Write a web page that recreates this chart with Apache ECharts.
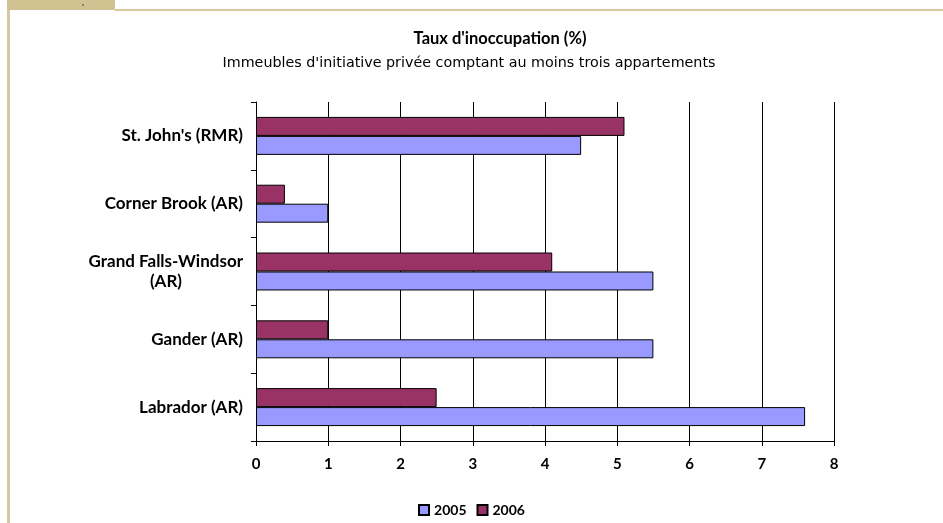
<!DOCTYPE html>
<html><head><meta charset="utf-8">
<script src="https://cdn.jsdelivr.net/npm/echarts@6/dist/echarts.min.js"></script>
<style>html,body{margin:0;padding:0;background:#fff}#c{width:943px;height:523px}</style>
</head><body><div id="c"></div>
<script>
// bottom to top
var categories = ["Labrador (AR)", "Gander (AR)", "Grand Falls-Windsor\n(AR)", "Corner Brook (AR)", "St. John's (RMR)"];
var values2005 = [7.6, 5.5, 5.5, 1.0, 4.5];
var values2006 = [2.5, 1.0, 4.1, 0.4, 5.1];
var xTicks = [0, 1, 2, 3, 4, 5, 6, 7, 8];

var chart = echarts.init(document.getElementById('c'), null, {renderer: 'canvas'});
var lab = "Lato, 'DejaVu Sans', sans-serif";
chart.setOption({
  animation: false,
  backgroundColor: '#fff',
  title: [
    {text: "Taux d'inoccupation (%)", left: 495, top: 25, textAlign: 'center',
     textStyle: {fontFamily: lab, fontWeight: 'bold', fontSize: 16.5, color: '#000'}},
    {text: "Immeubles d'initiative privée comptant au moins trois appartements", left: 464, top: 51, textAlign: 'center',
     textStyle: {fontFamily: "'DejaVu Sans', sans-serif", fontWeight: 'normal', fontSize: 14.3, color: '#000'}}
  ],
  legend: {
    bottom: 1, left: 'center', itemWidth: 10, itemHeight: 10, itemGap: 10,
    icon: 'rect',
    textStyle: {fontFamily: lab, fontWeight: 'bold', fontSize: 14, color: '#000'},
    data: ['2005', '2006']
  },
  grid: {left: 256, right: 109, top: 102, bottom: 82, containLabel: false},
  xAxis: {
    type: 'value', min: 0, max: 8, interval: 1,
    axisLine: {show: true, lineStyle: {color: '#000', width: 1}},
    axisTick: {show: true, length: 5, lineStyle: {color: '#000'}},
    axisLabel: {fontFamily: lab, fontWeight: 'bold', fontSize: 15, color: '#000', margin: 16,
      formatter: function (v) { return xTicks.indexOf(v) >= 0 ? String(v) : ''; }},
    splitLine: {show: true, lineStyle: {color: '#000', width: 1}}
  },
  yAxis: {
    type: 'category', data: categories,
    axisLine: {show: true, lineStyle: {color: '#000', width: 1}},
    axisTick: {show: true, length: 5, lineStyle: {color: '#000'}},
    axisLabel: {fontFamily: lab, fontWeight: 'bold', fontSize: 17, color: '#000', margin: 13, lineHeight: 20,
      formatter: function (v) {
        var parts = v.split('\n');
        if (parts.length > 1) return parts[0] + '\n{p|' + parts[1] + '}';
        return v;
      },
      rich: {p: {fontFamily: lab, fontWeight: 'bold', fontSize: 17, color: '#000', lineHeight: 20, padding: [0, 61, 0, 0]}}
    }
  },
  series: [
    {name: '2006', type: 'bar', data: values2006, barGap: '0%', barCategoryGap: '44%',
     itemStyle: {color: '#993366', borderColor: '#000', borderWidth: 1}},
    {name: '2005', type: 'bar', data: values2005, barGap: '0%', barCategoryGap: '44%',
     itemStyle: {color: '#9999FF', borderColor: '#000', borderWidth: 1}}
  ],
  graphic: [
    {type: 'rect', shape: {x: 7, y: 0, width: 108, height: 10}, style: {fill: '#D2C291'}, silent: true},
    {type: 'rect', shape: {x: 115, y: 9, width: 828, height: 2}, style: {fill: '#D6C89F'}, silent: true},
    {type: 'rect', shape: {x: 7, y: 10, width: 3, height: 513}, style: {fill: '#D6C89F'}, silent: true},
    {type: 'circle', shape: {cx: 83, cy: 5, r: 0.8}, style: {fill: '#333'}, silent: true}
  ]
});
</script></body></html>
